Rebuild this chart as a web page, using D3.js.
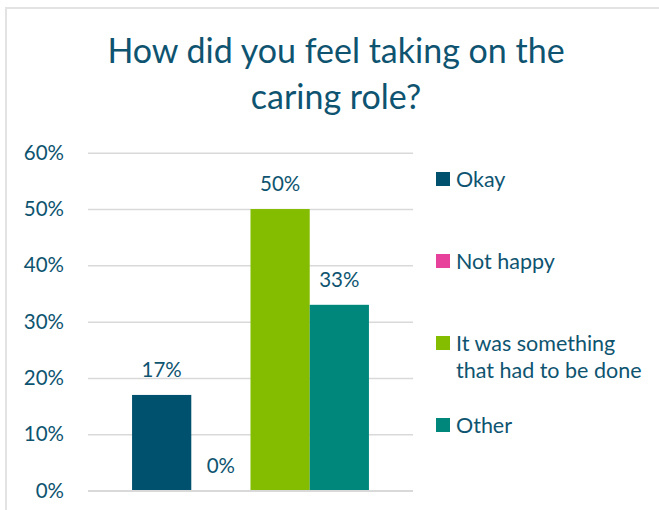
<!DOCTYPE html>
<html lang="en">
	<head>
		<meta charset="utf-8">
		<script type="text/javascript" src="https://d3js.org/d3.v7.min.js"></script>
		<style type="text/css">
			body { margin: 0; background: white; }
			text { font-family: Lato, "Open Sans", sans-serif; fill: #0e5470; }
		</style>
	</head>
	<body>
		<script type="text/javascript">

			//Data
			var titleLines = ["How did you feel taking on the", "caring role?"];
			var series = ["Okay", "Not happy", "It was something that had to be done", "Other"];
			var legendLines = [["Okay"], ["Not happy"], ["It was something", "that had to be done"], ["Other"]];
			var values = [0.17, 0, 0.50, 0.33];
			var colors = ["#00516e", "#e8419b", "#84bd00", "#00877b"];
			var yTicks = [0, 0.1, 0.2, 0.3, 0.4, 0.5, 0.6];

			//Width and height
			var w = 659;
			var h = 510;
			var plot = { left: 88, right: 413, top: 152.7, bottom: 490.7 };

			var svg = d3.select("body")
						.append("svg")
						.attr("width", w)
						.attr("height", h);

			//Chart border
			svg.append("rect")
				.attr("x", 6)
				.attr("y", 8)
				.attr("width", w + 10)
				.attr("height", h + 10)
				.attr("fill", "white")
				.attr("stroke", "#e3e3e3")
				.attr("stroke-width", 2);

			//Title
			svg.selectAll("text.title")
				.data(titleLines)
				.enter()
				.append("text")
				.attr("class", "title")
				.attr("x", 336)
				.attr("y", function(d, i) { return 63 + i * 46; })
				.attr("text-anchor", "middle")
				.attr("font-size", "34px")
				.text(function(d) { return d; });

			//Scales
			var yScale = d3.scaleLinear()
						   .domain([0, 0.6])
						   .range([plot.bottom, plot.top]);

			var groupScale = d3.scaleBand()
						   .domain(["all"])
						   .range([plot.left, plot.right])
						   .paddingInner(0)
						   .paddingOuter(0.186);

			var xScale = d3.scaleBand()
						   .domain(series)
						   .range([groupScale("all"), groupScale("all") + groupScale.bandwidth()])
						   .padding(0);

			//Y axis with gridlines
			var yAxis = d3.axisLeft(yScale)
						  .tickValues(yTicks)
						  .tickSize(-(plot.right - plot.left))
						  .tickPadding(24)
						  .tickFormat(d3.format(".0%"));

			var gy = svg.append("g")
						.attr("transform", "translate(" + plot.left + ",0)")
						.call(yAxis);
			gy.select(".domain").remove();
			gy.selectAll(".tick line")
				.attr("stroke", "#d9d9d9")
				.attr("stroke-width", 1.5);
			gy.selectAll(".tick text")
				.attr("font-size", "20.5px")
				.attr("font-family", null)
				.style("fill", "#0e5470");

			//Bars
			svg.selectAll("rect.bar")
				.data(values)
				.enter()
				.append("rect")
				.attr("class", "bar")
				.attr("x", function(d, i) { return xScale(series[i]); })
				.attr("y", function(d) { return yScale(d); })
				.attr("width", xScale.bandwidth())
				.attr("height", function(d) { return yScale(0) - yScale(d); })
				.attr("fill", function(d, i) { return colors[i]; });

			//Re-draw baseline on top of bars
			svg.append("line")
				.attr("x1", plot.left)
				.attr("x2", plot.right)
				.attr("y1", yScale(0))
				.attr("y2", yScale(0))
				.attr("stroke", "#d9d9d9")
				.attr("stroke-width", 1.5);

			//Data labels
			svg.selectAll("text.label")
				.data(values)
				.enter()
				.append("text")
				.attr("class", "label")
				.attr("x", function(d, i) { return xScale(series[i]) + xScale.bandwidth() / 2; })
				.attr("y", function(d) { return yScale(d) - 18; })
				.attr("text-anchor", "middle")
				.attr("font-size", "20.5px")
				.text(function(d) { return d3.format(".0%")(d); });

			//Legend
			var legend = svg.selectAll("g.legend")
				.data(legendLines)
				.enter()
				.append("g")
				.attr("class", "legend")
				.attr("transform", function(d, i) { return "translate(436," + (179 + i * 82) + ")"; });

			legend.append("rect")
				.attr("x", 0)
				.attr("y", -7)
				.attr("width", 14)
				.attr("height", 14)
				.attr("fill", function(d, i) { return colors[i]; });

			legend.selectAll("text")
				.data(function(d) { return d; })
				.enter()
				.append("text")
				.attr("x", 20)
				.attr("y", function(d, j) { return 7.5 + j * 27; })
				.attr("font-size", "21.5px")
				.text(function(d) { return d; });

		</script>
	</body>
</html>
